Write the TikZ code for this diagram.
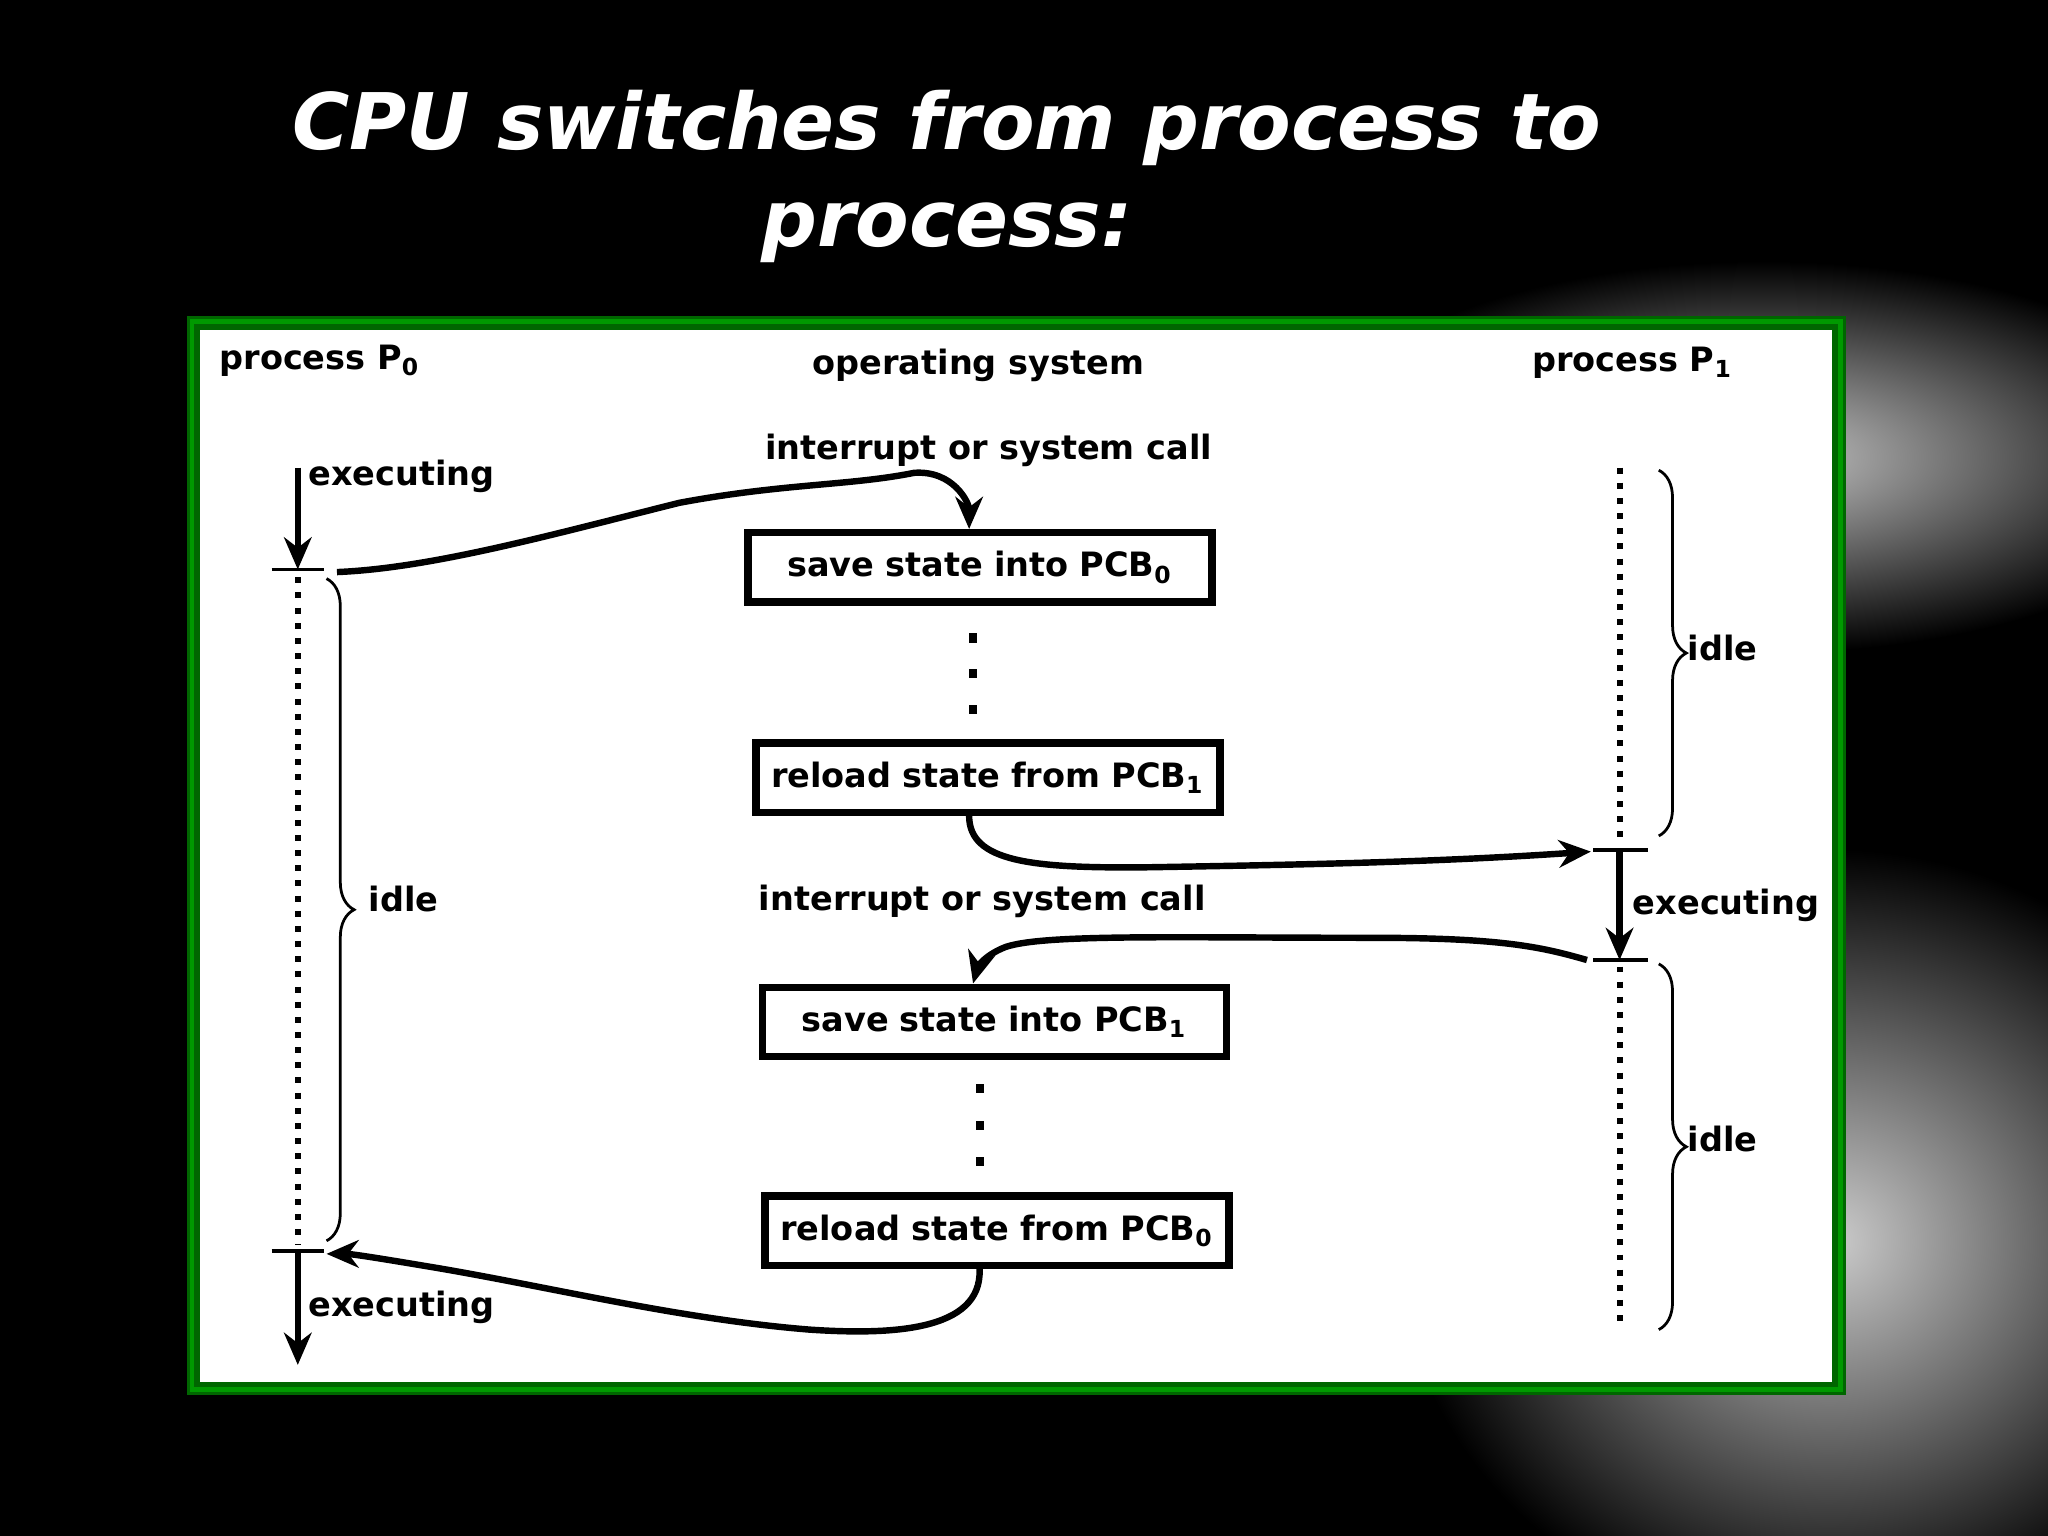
\documentclass[tikz,border=0pt]{standalone}
\usepackage{fontspec}
\setmainfont{DejaVu Sans}
\usetikzlibrary{decorations.pathreplacing,arrows.meta}
\begin{document}
\begin{tikzpicture}[x=0.01cm,y=-0.01cm,
  lbl/.style={font=\bfseries\fontsize{7.3}{9}\selectfont,inner sep=1pt},
  box/.style={draw,line width=1.6pt,minimum height=0.53cm,align=center,inner sep=0pt,anchor=north west,font=\bfseries\fontsize{7.3}{9}\selectfont},
  ln/.style={line width=1.4pt},
  arr/.style={ln,-{Stealth[length=7pt,width=6pt]}},
  dot/.style={line width=1.3pt,dotted},
  br/.style={decorate,decoration={brace,amplitude=6pt},line width=0.6pt}]
\useasboundingbox (0,0) rectangle (1568,1176);
\fill[black] (0,0) rectangle (1568,1176);
\shade[inner color=gray!45,outer color=black] (1350,350) ellipse (350 and 150);
\shade[inner color=gray!40,outer color=black] (1400,950) ellipse (330 and 300);
\node[text=white,font=\bfseries\itshape\fontsize{17}{21}\selectfont,align=center] (title) at (725,135) {CPU switches from process to\\process:};
\fill[green!40!black] (143,242) rectangle (1413,1068);
\draw[green!60!black,line width=1pt] (147,246) rectangle (1409,1064);
\fill[white] (153,253) rectangle (1403,1058);
% headers
\node[lbl] (p0) at (245,276) {process P$_{\mathbf 0}$};
\node[lbl] (os) at (749,280) {operating system};
\node[lbl] (p1) at (1250,278) {process P$_{\mathbf 1}$};
% P0 timeline
\coordinate (a0) at (228,358); \coordinate (a1) at (228,436);
\coordinate (a2) at (228,958); \coordinate (a3) at (228,1045);
\draw[arr] (a0) -- (a1);
\draw[ln,line width=0.8pt] (208,436) -- (248,436);
\draw[dot] (228,442) -- (228,953);
\draw[ln,line width=0.8pt] (208,958) -- (248,958);
\draw[arr] (a2) -- (a3);
\node[lbl,anchor=west] (e0) at (232,365) {executing};
\draw[br] (250,443) -- (250,950);
\node[lbl,anchor=west] (i0) at (278,688) {idle};
\node[lbl,anchor=west] (e0b) at (232,1001) {executing};
% P1 timeline
\coordinate (b1) at (1240,651); \coordinate (b2) at (1240,735);
\draw[dot] (1240,358) -- (1240,646);
\draw[ln,line width=0.8pt] (1220,651) -- (1262,651);
\draw[arr] (b1) -- (b2);
\draw[ln,line width=0.8pt] (1220,735) -- (1262,735);
\draw[dot] (1240,740) -- (1240,1018);
\draw[br] (1270,360) -- (1270,640);
\node[lbl,anchor=west] (i1) at (1288,496) {idle};
\node[lbl,anchor=west] (e1) at (1246,693) {executing};
\draw[br] (1270,738) -- (1270,1018);
\node[lbl,anchor=west] (i1b) at (1288,872) {idle};
% boxes
\node[box,text width=3.55cm] (s0) at (570,405) {save state into PCB$_{\mathbf 0}$};
\node[box,text width=3.55cm] (r1) at (576,566) {reload state from PCB$_{\mathbf 1}$};
\node[box,text width=3.55cm] (s1) at (581,753) {save state into PCB$_{\mathbf 1}$};
\node[box,text width=3.55cm] (r0) at (583,913) {reload state from PCB$_{\mathbf 0}$};
\foreach \y in {485,512,540} \fill (742,\y) rectangle +(6,7);
\foreach \y in {830,858,886} \fill (747,\y) rectangle +(6,7);
\node[lbl] (int1) at (757,345) {interrupt or system call};
\node[lbl] (int2) at (752,690) {interrupt or system call};
% connectors
\coordinate (c0) at (258,438);
\draw[arr] (c0) .. controls (330,435) and (420,410) .. (520,385)
  .. controls (600,370) and (650,372) .. (700,362)
  .. controls (730,360) and (742,385) .. (s0.north -| 742,0);
\coordinate (c1) at (1218,652);
\draw[arr] (r1.south -| 742,0) .. controls (742,660) and (790,665) .. (880,664)
  .. controls (1000,662) and (1100,660) .. (c1);
\coordinate (c2) at (1215,735);
\draw[arr] (c2) .. controls (1180,725) and (1150,718) .. (1050,718)
  .. controls (900,718) and (800,715) .. (770,725) .. controls (752,732) and (748,742) .. (s1.north -| 745,0);
\coordinate (c3) at (250,960);
\draw[arr] (r0.south -| 750,0) .. controls (752,1020) and (680,1022) .. (620,1018)
  .. controls (520,1010) and (420,985) .. (330,970) .. controls (300,965) and (270,960) .. (c3);
\end{tikzpicture}
\end{document}
